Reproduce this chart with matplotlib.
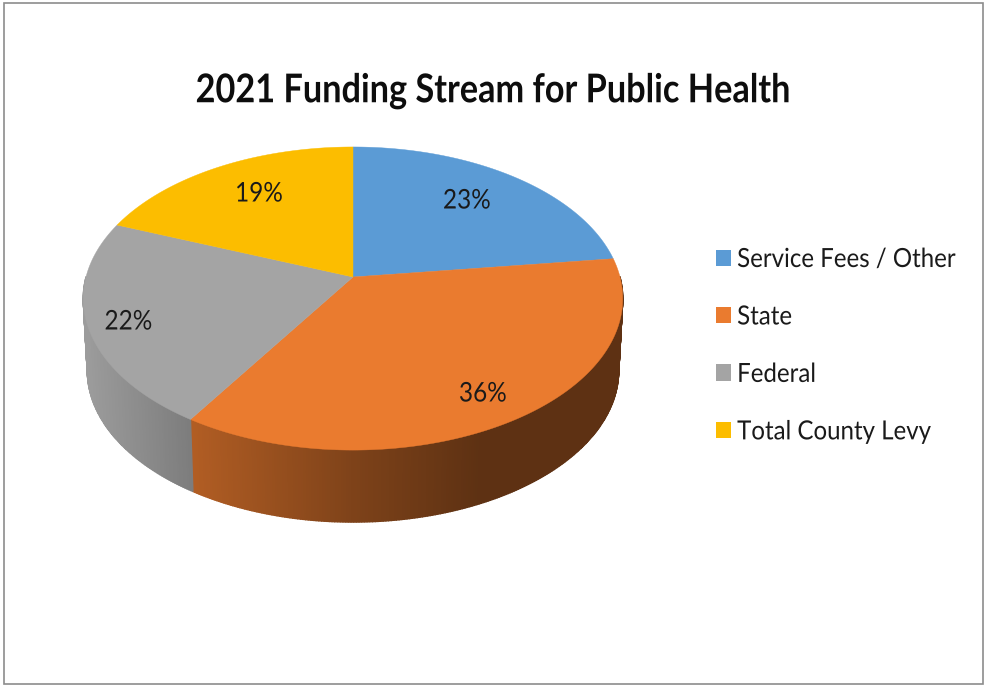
import numpy as np
import matplotlib
matplotlib.use("Agg")
import matplotlib.pyplot as plt
from matplotlib.patches import Polygon, Patch, Rectangle
from matplotlib.patheffects import AbstractPathEffect
from matplotlib.transforms import Affine2D

title = "2021 Funding Stream for Public Health"
categories = ["Service Fees / Other", "State", "Federal", "Total County Levy"]
shares = [23, 36, 22, 19]
percent_labels = ["23%", "36%", "22%", "19%"]
colors = ["#5B9BD5", "#EA7B2F", "#A4A4A4", "#FCBD00"]

W, H = 984, 685
fig = plt.figure(figsize=(W / 100, H / 100), dpi=100)
ax = fig.add_axes([0, 0, 1, 1])
ax.set_xlim(0, W)
ax.set_ylim(H, 0)
ax.axis("off")

FONT = ["Lato", "DejaVu Sans"]


class Squeeze(AbstractPathEffect):
    """Draws real text narrower, about a fixed x in display pixels."""

    def __init__(self, sx, x0):
        super().__init__()
        self.t = Affine2D().translate(-x0, 0).scale(sx, 1).translate(x0, 0)

    def draw_path(self, renderer, gc, tpath, affine, rgbFace=None):
        renderer.draw_path(gc, tpath, affine + self.t, rgbFace)


# perspective projection of the pie's disc
CX, CY, RX, A, B, DEPTH = 353, 277, 267, 148.5, 0.142, 72


def project(t, r=1.0, lower=False):
    v = r * np.cos(t)
    d = 1 + B * v
    scale = 0.985 if lower else 1.0
    x = CX + scale * RX * r * np.sin(t) / d
    y = CY - A * v / d + (DEPTH if lower else 0)
    return x, y


edges = np.radians(np.cumsum([0] + shares) / sum(shares) * 360)


def shade(x):
    return np.interp(x, [85, 190, 360, 480, 622], [0.95, 0.76, 0.53, 0.40, 0.40])


# side wall, painted as thin strips so the shading runs left to right
for i, col in enumerate(colors):
    ts = np.linspace(edges[i], edges[i + 1], int(np.degrees(edges[i + 1] - edges[i])) * 2 + 2)
    for t0, t1 in zip(ts[:-1], ts[1:]):
        if np.cos((t0 + t1) / 2) > 0:
            continue
        x0, y0 = project(t0)
        x1, y1 = project(t1)
        x2, y2 = project(t1, lower=True)
        x3, y3 = project(t0, lower=True)
        f = float(shade((x0 + x1) / 2))
        rgb = np.array(matplotlib.colors.to_rgb(col)) * f
        ax.add_patch(Polygon([(x0, y0), (x1, y1), (x2, y2), (x3, y3)],
                             closed=True, fc=rgb, ec=rgb, lw=1.0, zorder=2))

# top face
for i, col in enumerate(colors):
    ts = np.linspace(edges[i], edges[i + 1], 200)
    xs, ys = project(ts)
    pts = np.column_stack([np.r_[CX, xs], np.r_[CY, ys]])
    ax.add_patch(Polygon(pts, closed=True, fc=col, ec=col, lw=0.3, zorder=3))

# percent labels
label_xy = [(467, 201), (483, 394), (128.5, 322), (259, 194)]
for (x, y), s in zip(label_xy, percent_labels):
    ax.text(x, y, s, ha="center", va="center", fontsize=19.5, color="#1a1a1a",
            family=FONT, zorder=5, path_effects=[Squeeze(0.9, x)])

ax.text(493.5, 91, title, ha="center", va="center", fontsize=28.5, fontweight="bold",
        color="#0d0d0d", family=FONT, path_effects=[Squeeze(0.866, 493.5)])

handles = [Patch(fc=c, ec="none") for c in colors]
leg = ax.legend(handles, categories, loc="upper left", bbox_to_anchor=(716 / W, 1 - 247 / H),
                frameon=False, prop={"family": FONT, "size": 19},
                handlelength=0.57, handleheight=0.57, handletextpad=0.23,
                labelspacing=1.23, borderpad=0, borderaxespad=0, labelcolor="#1a1a1a")

fig.canvas.draw()
renderer = fig.canvas.get_renderer()
for txt in leg.get_texts():
    txt.set_path_effects([Squeeze(0.912, txt.get_window_extent(renderer).x0)])

ax.add_patch(Rectangle((4, 2.5), 979, 681.5, fc="none", ec="#8c8c8c", lw=1.2, zorder=6))

fig.savefig("out.png", dpi=100, facecolor="white")
